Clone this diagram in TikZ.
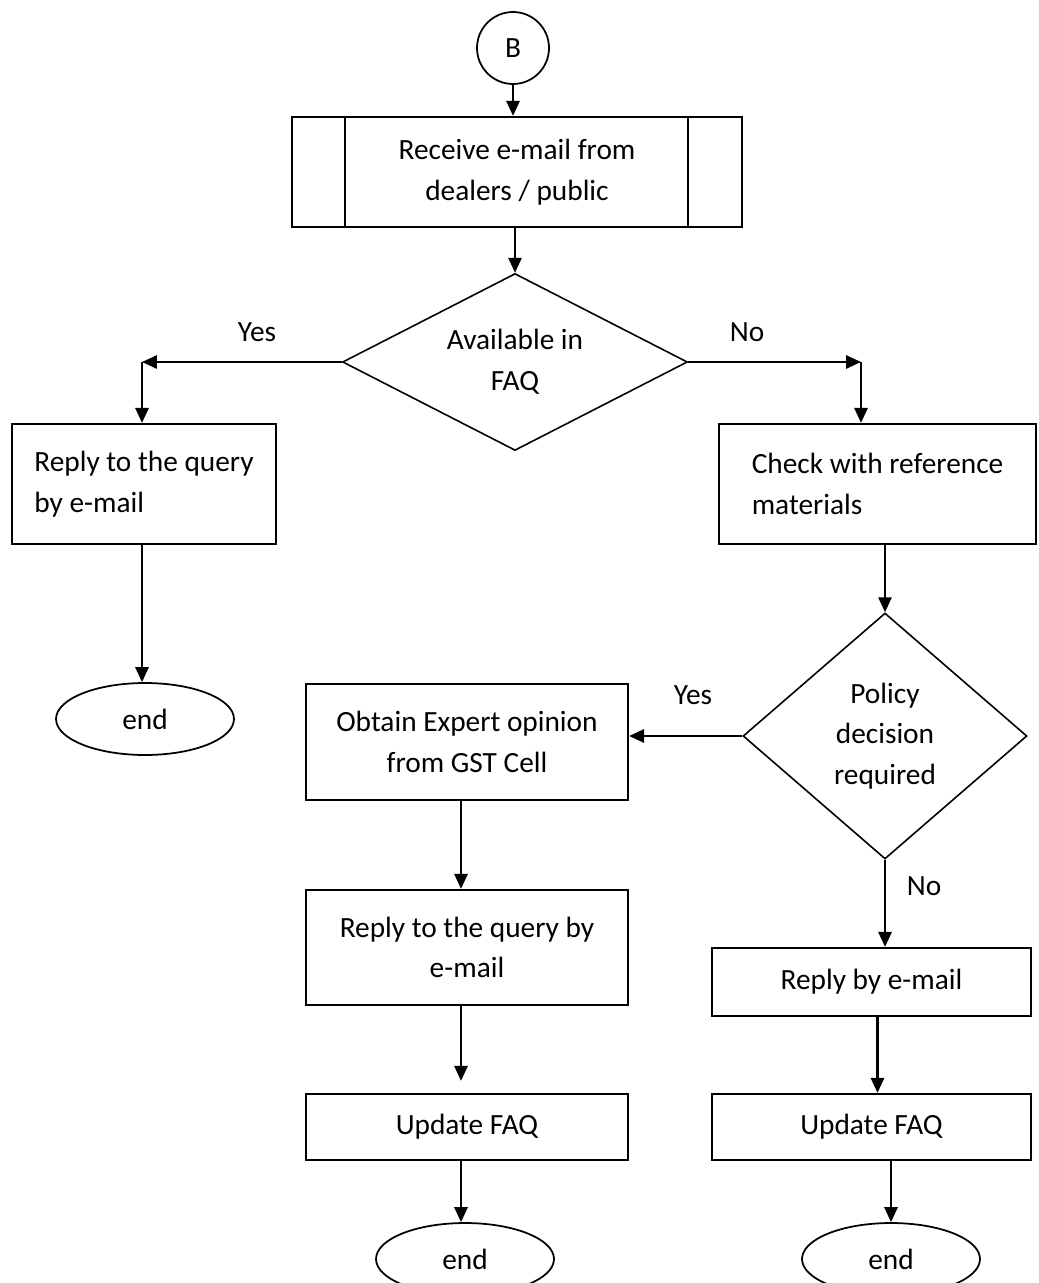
\documentclass[tikz,border=0pt]{standalone}
\usepackage{fontspec}
\setmainfont{Carlito}
\usetikzlibrary{shapes.geometric,arrows.meta,calc}
\begin{document}
\begin{tikzpicture}[x=0.02cm,y=-0.02cm,
  every node/.style={font=\fontsize{16.7}{23.2}\selectfont},
  box/.style={draw,line width=1.3pt,rectangle,inner sep=0pt,align=center},
  lbox/.style={draw,line width=1.3pt,rectangle,inner sep=0pt,align=left},
  dec/.style={draw,line width=0.9pt,diamond,inner sep=0pt,align=center},
  term/.style={draw,line width=1pt,ellipse,inner sep=0pt,minimum width=3.56cm,minimum height=1.44cm},
  conn/.style={draw,line width=1pt,circle,inner sep=0pt,minimum size=1.44cm},
  arr/.style={line width=1.3pt,-{Triangle[length=8.5pt,width=7.5pt]}},
  lbl/.style={inner sep=0pt}]
\useasboundingbox (0,0) rectangle (1038,1283);
\clip (0,0) rectangle (1038,1283);
\fill[white] (0,0) rectangle (1038,1283);
% nodes
\node[conn] (B) at (513,48) {B};
\node[box,minimum width=9cm,minimum height=2.2cm] (recv) at (517,172) {Receive e-mail from\\dealers / public};
\draw[line width=0.9pt] ($(recv.north west)+(54,0)$) -- ($(recv.south west)+(54,0)$);
\draw[line width=0.9pt] ($(recv.north east)+(-55,0)$) -- ($(recv.south east)+(-55,0)$);
\node[dec,shape aspect=2,minimum width=6.9cm,minimum height=3.54cm] (d1) at (515,362) {Available in\\FAQ};
\coordinate (yesL) at (142,362);
\coordinate (noR) at (861,362);
\node[lbl] (yes1) at (257,332) {Yes};
\node[lbl] (no1) at (747,332) {No};
\node[lbox,minimum width=5.28cm,minimum height=2.4cm] (r1) at (144,484) {Reply to the query\\by e-mail};
\node[term] (e1) at (145,719) {end};
\node[lbox,minimum width=6.34cm,minimum height=2.4cm] (chk) at (877.5,484) {Check with reference\\materials};
\node[dec,shape aspect=1.15,minimum width=5.68cm,minimum height=4.92cm] (d2) at (885,736) {Policy\\decision\\required};
\node[lbl] (yes2) at (693,695) {Yes};
\node[lbl] (no2) at (924,886) {No};
\node[box,minimum width=6.44cm,minimum height=2.32cm] (obt) at (467,742) {Obtain Expert opinion\\from GST Cell};
\node[box,minimum width=6.44cm,minimum height=2.3cm] (r2) at (467,947.5) {Reply to the query by\\e-mail};
\node[box,minimum width=6.44cm,minimum height=1.32cm] (u1) at (467,1127) {Update FAQ};
\node[term] (e2) at (465,1259) {end};
\node[box,minimum width=6.38cm,minimum height=1.36cm] (r3) at (871.5,982) {Reply by e-mail};
\node[box,minimum width=6.38cm,minimum height=1.32cm] (u2) at (871.5,1127) {Update FAQ};
\node[term] (e3) at (891,1259) {end};
% connectors
\draw[arr] (B.south) -- (B.south |- recv.north);
\draw[arr] (d1.north |- recv.south) -- (d1.north);
\draw[arr] (d1.west) -- (yesL);
\draw[arr] (yesL) -- (yesL |- r1.north);
\draw[arr] (d1.east) -- (noR);
\draw[arr] (noR) -- (noR |- chk.north);
\draw[arr] (r1.south -| yesL) -- (e1.north -| yesL);
\draw[arr] (d2.north |- chk.south) -- (d2.north);
\draw[arr] (d2.west) -- (d2.west -| obt.east);
\draw[arr] ($(obt.south)+(-6,0)$) -- ($(r2.north)+(-6,0)$);
\draw[arr,shorten >=0.24cm] ($(r2.south)+(-6,0)$) -- ($(u1.north)+(-6,0)$);
\draw[arr] ($(u1.south)+(-6,0)$) -- ($(e2.north)+(-4,0)$);
\draw[arr] (d2.south) -- (d2.south |- r3.north);
\draw[arr] ($(r3.south)+(6,0)$) -- ($(u2.north)+(6,0)$);
\draw[arr] (e3.north |- u2.south) -- (e3.north);
\end{tikzpicture}
\end{document}
